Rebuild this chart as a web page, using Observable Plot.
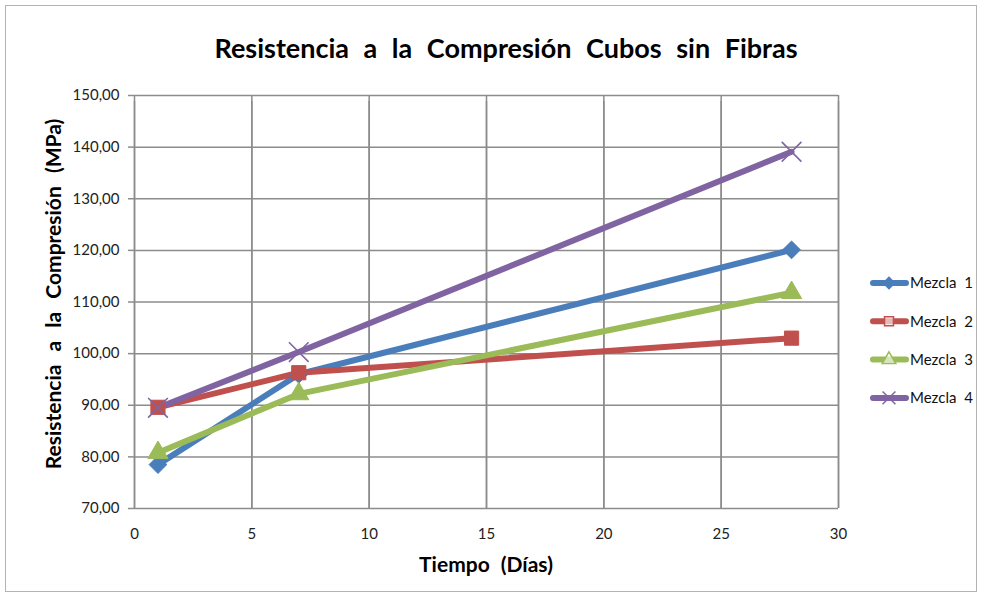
<!DOCTYPE html>
<html><head><meta charset="utf-8">
<script src="https://cdn.jsdelivr.net/npm/d3@7"></script>
<script src="https://cdn.jsdelivr.net/npm/@observablehq/plot@0.6"></script>
<style>
body{margin:0;background:#fff;font-family:Lato,"Open Sans",sans-serif;}
#wrap{position:relative;width:984px;height:609px;}
#border{position:absolute;left:5px;top:5px;width:972px;height:587px;border:1px solid #b3b3b3;box-sizing:border-box;}
.t{position:absolute;font-weight:bold;color:#000;white-space:nowrap;}
</style></head>
<body><div id="wrap"><div id="border"></div></div>
<script>
const title = "Resistencia a la Compresión  Cubos sin Fibras";
const xLabel = "Tiempo (Días)";
const yLabel = "Resistencia a la Compresión (MPa)";
const series = ["Mezcla 1", "Mezcla 2", "Mezcla 3", "Mezcla 4"];
const colors = ["#4A7EBB", "#C0504D", "#9BBB59", "#8064A2"];
const symbols = ["diamond2", "square", "triangle", "times"];
const days = [1, 7, 28];
const mezcla1 = [78.5, 96.0, 120.1];
const mezcla2 = [89.6, 96.3, 103.0];
const mezcla3 = [80.8, 92.2, 111.8];
const mezcla4 = [89.5, 100.3, 139.1];
const xTicks = [0, 5, 10, 15, 20, 25, 30];
const yTicks = [70, 80, 90, 100, 110, 120, 130, 140, 150];

const values = [mezcla1, mezcla2, mezcla3, mezcla4];
const data = [];
series.forEach((s, i) => days.forEach((d, j) => data.push({serie: s, day: d, value: values[i][j]})));
const fmt = d3.formatLocale({decimal: ",", thousands: "."}).format(".2f");
const grid = "#8c8c8c";

const dotMarks = series.map((s, i) => Plot.dot(data.filter(d => d.serie === s), {
  x: "day", y: "value", symbol: () => symbols[i],
  fill: i === 3 ? "none" : colors[i], stroke: colors[i],
  strokeWidth: i === 3 ? 1.6 : 1, r: i === 3 ? 9 : (i === 2 ? 7.5 : 8)
}));

const plot = Plot.plot({
  width: 984, height: 609,
  marginLeft: 134, marginRight: 146, marginTop: 95, marginBottom: 101,
  style: {fontFamily: "Lato, sans-serif", fontSize: "15px", color: "#222", background: "transparent"},
  x: {domain: [0, 30], ticks: xTicks, label: null, tickSize: 0, tickPadding: 20, tickFormat: d => String(d)},
  y: {domain: [70, 150], ticks: yTicks, label: null},
  color: {domain: series, range: colors},
  symbol: {domain: symbols, range: symbols},
  marks: [
    Plot.ruleX(xTicks, {stroke: grid, strokeWidth: 1.5, y1: 70, y2: 150}),
    Plot.ruleY(yTicks, {stroke: grid, strokeWidth: 1.5, x1: 0, x2: 30}),
    Plot.ruleX(xTicks, {stroke: grid, strokeWidth: 1.5, y1: 70, y2: 150, insetBottom: -6}),
    Plot.axisY({ticks: yTicks, tickFormat: fmt, tickSize: 6, tickPadding: 9, stroke: grid, strokeWidth: 1.5, fontSize: 15}),
    Plot.line(data, {x: "day", y: "value", z: "serie", stroke: "serie", strokeWidth: 6, strokeLinecap: "round"}),
    ...dotMarks
  ]
});
const wrap = document.getElementById("wrap");
plot.style.position = "absolute"; plot.style.left = "0"; plot.style.top = "0";
wrap.appendChild(plot);

function addText(txt, css) {
  const el = document.createElement("div");
  el.className = "t"; el.textContent = txt;
  Object.assign(el.style, css);
  wrap.appendChild(el);
  return el;
}
addText(title, {left: "0", width: "1012px", top: "31px", textAlign: "center", fontSize: "27px", wordSpacing: "8px"});
addText(xLabel, {left: "134px", width: "704px", top: "551px", textAlign: "center", fontSize: "21px", wordSpacing: "6px"});
addText(yLabel, {left: "52px", top: "294px", fontSize: "21px", wordSpacing: "8px", transform: "translate(-50%,-50%) rotate(-90deg)"});

// legend
const svg = d3.select(plot);
const lg = svg.append("g").attr("text-anchor", "start");
series.forEach((s, i) => {
  const y = 283 + i * 38.3;
  const g = lg.append("g").attr("transform", `translate(0,${y})`);
  g.append("line").attr("x1", 873).attr("x2", 906).attr("y1", 0).attr("y2", 0)
    .attr("stroke", colors[i]).attr("stroke-width", 6).attr("stroke-linecap", "round");
  const sym = d3.symbol().type([d3.symbolDiamond2, d3.symbolSquare, d3.symbolTriangle, d3.symbolTimes][i]).size(i === 3 ? 110 : 80);
  g.append("path").attr("d", sym()).attr("transform", "translate(889,0)")
    .attr("fill", i === 0 ? colors[i] : (i === 3 ? "none" : "white"))
    .attr("fill-opacity", i === 0 ? 1 : 0.6)
    .attr("stroke", colors[i]).attr("stroke-width", 1.5);
  g.append("text").attr("x", 910).attr("y", 0).attr("dy", "0.35em").attr("text-anchor", "start")
    .attr("font-size", 15).attr("font-family", "Lato, sans-serif").attr("word-spacing", "4px").attr("fill", "#111").text(s);
});
</script></body></html>
